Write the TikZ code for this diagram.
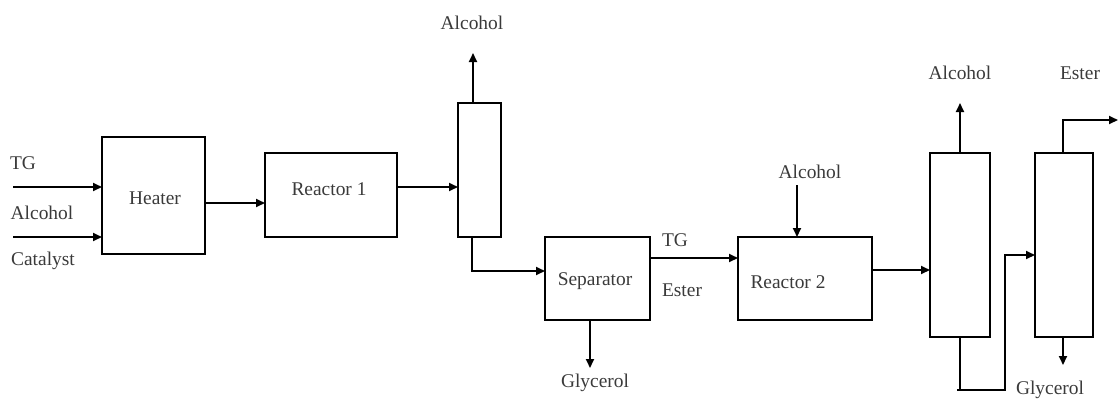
\documentclass[tikz,border=0pt]{standalone}
\usepackage{fontspec}
\setmainfont{Liberation Serif}
\usetikzlibrary{arrows.meta}
\definecolor{txt}{HTML}{3A3A3A}
\begin{document}
\begin{tikzpicture}[x=1bp,y=-1bp,
  unit/.style={draw=black,line width=2bp,fill=white,minimum width=#1,inner sep=0pt,outer sep=0pt},
  lbl/.style={text=txt,font=\fontsize{19.5}{22}\selectfont,inner sep=0pt},
  arr/.style={line width=1.8bp,-{Triangle[length=9bp,width=8bp]}},
  ln/.style={line width=1.8bp}]
\useasboundingbox (0,0) rectangle (1119,401);
% units
\node[unit=103bp,minimum height=117bp] (heater) at (153.5,195.5) {};
\node[lbl] at (155,198) {Heater};
\node[unit=132bp,minimum height=84bp] (r1) at (331,195) {};
\node[lbl] at (329,189) {Reactor 1};
\node[unit=43bp,minimum height=134bp] (col1) at (479.5,170) {};
\node[unit=105bp,minimum height=83bp] (sep) at (597.5,278.5) {};
\node[lbl] at (595,281) {Separator};
\node[unit=134bp,minimum height=83bp] (r2) at (805,278.5) {};
\node[lbl] at (788,282) {Reactor 2};
\node[unit=60bp,minimum height=184bp] (col2) at (960,245) {};
\node[unit=58bp,minimum height=184bp] (col3) at (1064,245) {};
% labels
\node[lbl] (tgl) at (23,163) {TG};
\node[lbl] (alcl) at (42,213) {Alcohol};
\node[lbl] (catl) at (43,261) {Catalyst};
\node[lbl] (alc1) at (472,23) {Alcohol};
\node[lbl] (gly1) at (595,383) {Glycerol};
\node[lbl] (tg2) at (675,240) {TG};
\node[lbl] (est2) at (682,290) {Ester};
\node[lbl] (alc2) at (810,172) {Alcohol};
\node[lbl] (alc3) at (960,73) {Alcohol};
\node[lbl] (est3) at (1080,73) {Ester};
\node[lbl] (gly3) at (1050,390) {Glycerol};
% free ends
\coordinate (tgin) at (13,187);
\coordinate (alin) at (13,237);
\coordinate (h1) at (205,203);
\coordinate (r1o) at (397,187);
\coordinate (c1top) at (473,53);
\coordinate (c1b) at (472,237);
\coordinate (sepin) at (545,271);
\coordinate (sepo) at (650,258);
\coordinate (sepg) at (590,320);
\coordinate (g1end) at (590,368);
\coordinate (r2a) at (797,185);
\coordinate (r2o) at (872,270);
\coordinate (c2top) at (960,103);
\coordinate (c2low) at (960,390);
\coordinate (byp) at (1005,390);
\coordinate (c3in) at (1005,255);
\coordinate (c3up) at (1063,120);
\coordinate (c3out) at (1118,120);
\coordinate (c3g) at (1063,365);
% connectors
\draw[arr] (tgin) -- (tgin -| heater.west);
\draw[arr] (alin) -- (alin -| heater.west);
\draw[arr] (h1) -- (h1 -| r1.west);
\draw[arr] (r1o) -- (r1o -| col1.west);
\draw[arr] (c1top |- col1.north) -- (c1top);
\draw[arr] (c1b) |- (sepin);
\draw[arr] (sepo) -- (sepo -| r2.west);
\draw[arr] (sepg) -- (g1end);
\draw[arr] (r2a) -- (r2a |- r2.north);
\draw[arr] (r2o) -- (r2o -| col2.west);
\draw[arr] (col2.north) -- (c2top);
\draw[arr] (col2.south) -- (c2low) -- (byp) -- (c3in) -- (c3in -| col3.west);
\draw[ln] (957,390) -- (c2low);
\draw[arr] (c3up |- col3.north) -- (c3up) -- (c3out);
\draw[arr] (c3g |- col3.south) -- (c3g);
\end{tikzpicture}
\end{document}
